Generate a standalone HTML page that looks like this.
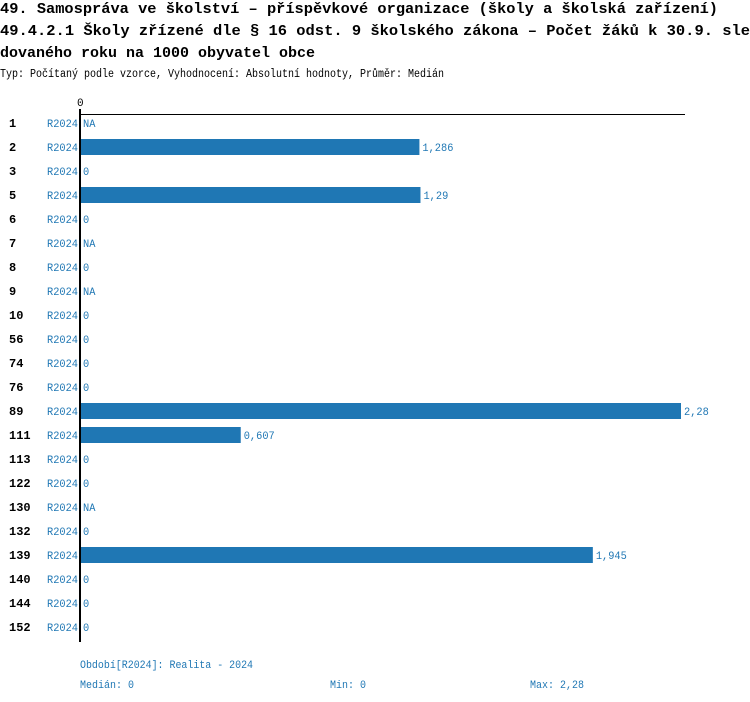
<!DOCTYPE html>
<html><head><meta charset="utf-8"><style>
body{margin:0;background:#fff}
svg{display:block;font-family:"Liberation Mono","DejaVu Sans Mono",monospace}
</style></head><body>
<svg id="chart" width="750" height="702" xmlns="http://www.w3.org/2000/svg">
<text x="0" y="13" font-size="15" font-weight="bold" textLength="718" lengthAdjust="spacingAndGlyphs">49. Samospráva ve školství – příspěvkové organizace (školy a školská zařízení)</text>
<text x="0" y="35" font-size="15" font-weight="bold" textLength="750" lengthAdjust="spacingAndGlyphs">49.4.2.1 Školy zřízené dle § 16 odst. 9 školského zákona – Počet žáků k 30.9. sle</text>
<text x="0" y="57" font-size="15" font-weight="bold" textLength="315" lengthAdjust="spacingAndGlyphs">dovaného roku na 1000 obyvatel obce</text>
<text x="0" y="77" font-size="11.5" textLength="444" lengthAdjust="spacingAndGlyphs">Typ: Počítaný podle vzorce, Vyhodnocení: Absolutní hodnoty, Průměr: Medián</text>
<text x="77" y="106" font-size="11">0</text>
<line x1="80" y1="114.5" x2="685" y2="114.5" stroke="#000" stroke-width="1"/>
<g id="rows"></g>
<line x1="80" y1="109" x2="80" y2="642" stroke="#000" stroke-width="2"/>
<text x="80" y="668" font-size="11" fill="#1f77b4" textLength="173" lengthAdjust="spacingAndGlyphs">Období[R2024]: Realita - 2024</text>
<text x="80" y="688" font-size="11" fill="#1f77b4" textLength="54" lengthAdjust="spacingAndGlyphs">Medián: 0</text>
<text x="330" y="688" font-size="11" fill="#1f77b4" textLength="36" lengthAdjust="spacingAndGlyphs">Min: 0</text>
<text x="530" y="688" font-size="11" fill="#1f77b4" textLength="54" lengthAdjust="spacingAndGlyphs">Max: 2,28</text>
</svg>
<script>
const categories=["1","2","3","5","6","7","8","9","10","56","74","76","89","111","113","122","130","132","139","140","144","152"];
const values=[null,1.286,0,1.29,0,null,0,null,0,0,0,0,2.28,0.607,0,0,null,0,1.945,0,0,0];
const labels=["NA","1,286","0","1,29","0","NA","0","NA","0","0","0","0","2,28","0,607","0","0","NA","0","1,945","0","0","0"];
const maxVal=2.28;
const NS="http://www.w3.org/2000/svg";
const g=document.getElementById('rows');
const x=v=>81+v/maxVal*600;
const y=i=>123+i*24;
function mk(tag,attrs){const e=document.createElementNS(NS,tag);for(const k in attrs)e.setAttribute(k,attrs[k]);g.appendChild(e);return e;}
categories.forEach((c,i)=>{
  const cy=y(i);
  const t=mk('text',{x:9,y:cy+4,'font-size':12,'font-weight':'bold',textLength:c.length*7.2,lengthAdjust:'spacingAndGlyphs'});t.textContent=c;
  
  
  const p=mk('text',{x:47,y:cy+4,'font-size':11,fill:'#1f77b4',textLength:31,lengthAdjust:'spacingAndGlyphs'});p.textContent='R2024';
  
  
  const v=values[i];
  let end=83;
  if(v!==null&&v>0){
    const r=mk('rect',{x:81,y:cy-8,width:x(v)-81,height:16,fill:'#1f77b4'});
    
    
    end=x(v)+3;
  }
  const l=mk('text',{x:end,y:cy+4,'font-size':11,fill:'#1f77b4',textLength:labels[i].length*6.2,lengthAdjust:'spacingAndGlyphs'});l.textContent=labels[i];
  
  
});
</script>
</body></html>
